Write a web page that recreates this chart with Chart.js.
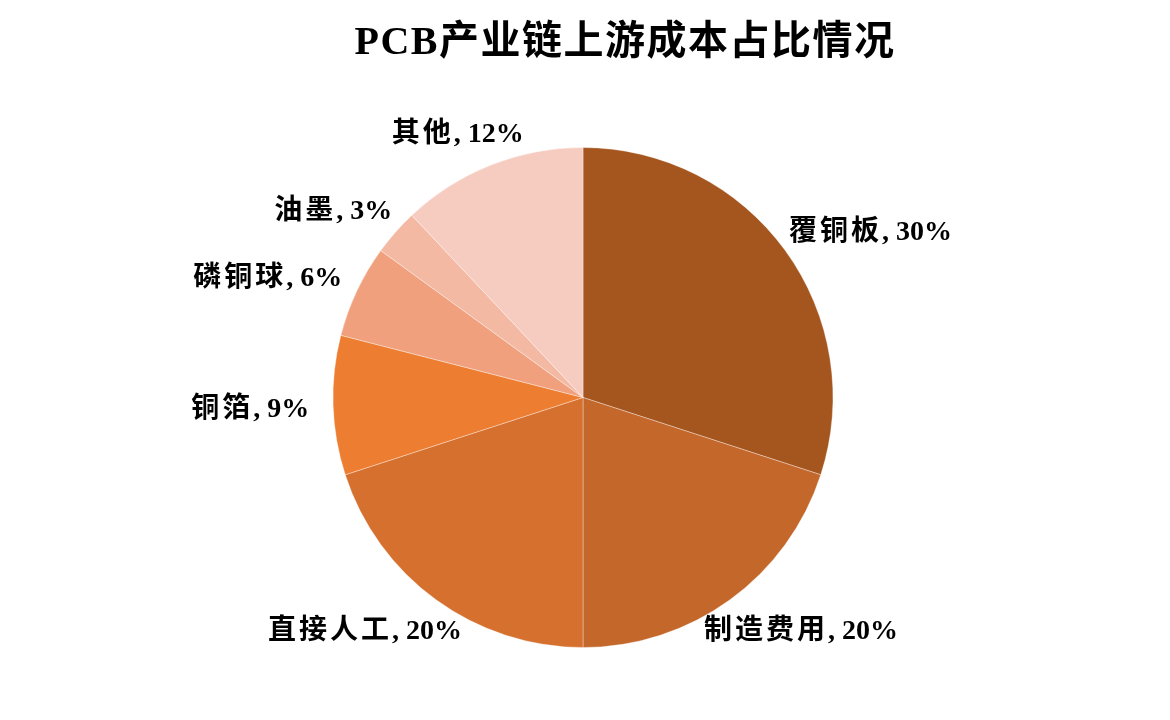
<!DOCTYPE html>
<html>
<head>
<meta charset="utf-8">
<script src="https://cdn.jsdelivr.net/npm/chart.js@4.4.0/dist/chart.umd.min.js"></script>
<style>
  html, body { margin: 0; padding: 0; background: #ffffff; }
  #wrap { width: 1170px; height: 720px; position: relative; }
</style>
</head>
<body>
<div id="wrap"><canvas id="c" width="1170" height="720"></canvas></div>
<script>
const titleText = 'PCB产业链上游成本占比情况';
const categories = ['覆铜板', '制造费用', '直接人工', '铜箔', '磷铜球', '油墨', '其他'];
const shares = [30, 20, 20, 9, 6, 3, 12];
const sliceColors = ['#A5561F', '#C4672B', '#D5702E', '#ED7D31', '#F0A07C', '#F3B9A3', '#F7CCC0'];

const FONT = '"Liberation Serif", "Times New Roman", "Noto Sans CJK SC", serif';

const labelPlugin = {
  id: 'sliceLabels',
  afterDatasetsDraw(chart) {
    const ctx = chart.ctx;
    const meta = chart.getDatasetMeta(0);
    ctx.save();
    // title
    ctx.font = 'bold 40px ' + FONT;
    ctx.letterSpacing = '1.5px';
    ctx.fillStyle = '#000000';
    ctx.textAlign = 'center';
    ctx.textBaseline = 'middle';
    ctx.fillText(titleText, 625, 44);
    // slice labels: CJK name part spaced, numeric part tight
    ctx.textAlign = 'left';
    ctx.font = 'bold 28px ' + FONT;
    meta.data.forEach((arc, i) => {
      const p = arc.getProps(['x', 'y', 'startAngle', 'endAngle', 'outerRadius'], true);
      const mid = (p.startAngle + p.endAngle) / 2;
      const s = Math.cos(mid), c = Math.sin(mid);
      const namePart = categories[i];
      const valPart = ', ' + shares[i] + '%';
      ctx.letterSpacing = '3px';
      const w1 = ctx.measureText(namePart).width;
      ctx.letterSpacing = '0px';
      const w2 = ctx.measureText(valPart).width;
      const w = w1 + w2;
      const R = p.outerRadius + 24;
      const cx = p.x + R * s + (w / 2) * s;
      const cy = p.y + R * c + 12 * c + 3;
      const x0 = cx - w / 2;
      ctx.letterSpacing = '3px';
      ctx.fillText(namePart, x0, cy);
      ctx.letterSpacing = '0px';
      ctx.fillText(valPart, x0 + w1, cy);
    });
    ctx.restore();
  }
};

new Chart(document.getElementById('c'), {
  type: 'pie',
  data: {
    labels: categories,
    datasets: [{
      data: shares,
      backgroundColor: sliceColors,
      borderColor: 'rgba(255,255,255,0.35)',
      borderWidth: 1
    }]
  },
  options: {
    responsive: false,
    animation: false,
    devicePixelRatioOverride: 1,
    layout: { padding: { top: 147, bottom: 72, left: 200, right: 204 } },
    plugins: {
      legend: { display: false },
      tooltip: { enabled: false },
      title: { display: false }
    }
  },
  plugins: [labelPlugin]
});
</script>
</body>
</html>
